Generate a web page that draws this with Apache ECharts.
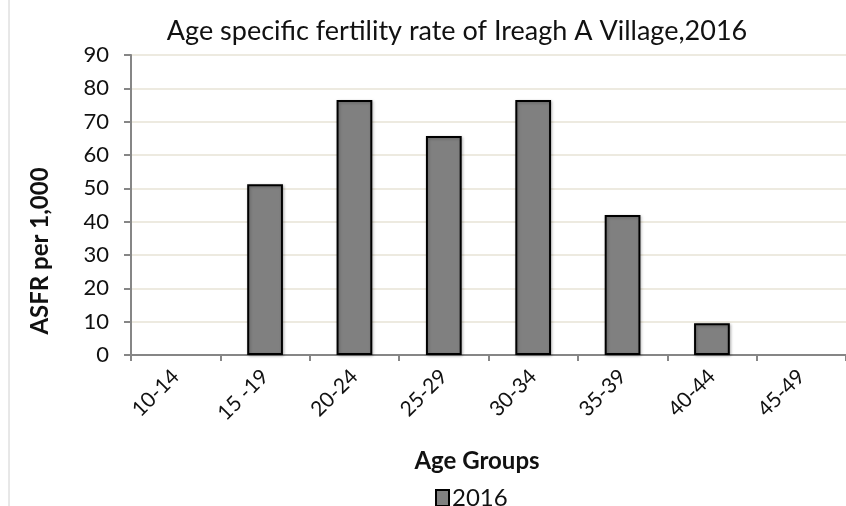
<!DOCTYPE html>
<html>
<head>
<meta charset="utf-8">
<script src="https://cdn.jsdelivr.net/npm/echarts@6/dist/echarts.min.js"></script>
<style>
  html, body { margin: 0; padding: 0; background: #fff; }
  #chart { width: 846px; height: 506px; }
</style>
</head>
<body>
<div id="chart"></div>
<script>
var ageGroups = ['10-14', '15 -19', '20-24', '25-29', '30-34', '35-39', '40-44', '45-49'];
var asfr2016 = [0, 51.2, 76.5, 65.7, 76.5, 42, 9.5, 0];
var yTicks = { min: 0, max: 90, interval: 10 };

var dom = document.getElementById('chart');
var myChart = echarts.init(dom, null, { renderer: 'canvas' });

var font = 'Lato, "Noto Sans", sans-serif';
var textColor = '#111111';

// zero bars show nothing in the original, so drop their outline
var barData = asfr2016.map(function (v) {
    return v === 0 ? { value: v, itemStyle: { borderWidth: 0 } } : v;
});

var option = {
    backgroundColor: '#ffffff',
    animation: false,
    title: {
        text: 'Age specific fertility rate of Ireagh A Village,2016',
        left: 452,
        textAlign: 'center',
        top: 13,
        textStyle: {
            fontFamily: font,
            fontWeight: 'normal',
            fontSize: 27,
            color: textColor
        }
    },
    legend: {
        data: ['2016'],
        icon: 'rect',
        left: 430,
        top: 481,
        itemWidth: 13,
        itemHeight: 16,
        itemGap: 4,
        itemStyle: { borderColor: '#000', borderWidth: 2 },
        textStyle: {
            fontFamily: font,
            fontSize: 24,
            color: textColor,
            padding: [0, 0, 0, -2]
        }
    },
    grid: {
        left: 131,
        top: 55,
        width: 728,
        height: 300,
        containLabel: false
    },
    xAxis: {
        type: 'category',
        data: ageGroups,
        axisLine: { lineStyle: { color: '#868686', width: 2 } },
        axisTick: { show: true, length: 6, lineStyle: { color: '#868686', width: 2 } },
        axisLabel: {
            rotate: 45,
            margin: 18,
            fontFamily: font,
            fontSize: 21,
            color: textColor,
            interval: 0
        },
        splitLine: { show: false }
    },
    yAxis: {
        type: 'value',
        min: yTicks.min,
        max: yTicks.max,
        interval: yTicks.interval,
        axisLine: { show: true, lineStyle: { color: '#868686', width: 2 } },
        axisTick: { show: true, inside: false, length: 7, lineStyle: { color: '#868686', width: 2 } },
        axisLabel: {
            margin: 22,
            fontFamily: font,
            fontSize: 22,
            color: textColor
        },
        splitLine: { lineStyle: { color: '#EDEAE0', width: 2 } }
    },
    graphic: [
        {
            type: 'line',
            shape: { x1: 9, y1: 0, x2: 9, y2: 506 },
            style: { stroke: '#D0D0D0', lineWidth: 1 }
        },
        {
            type: 'text',
            x: 40,
            y: 251,
            rotation: Math.PI / 2,
            style: {
                text: 'ASFR per 1,000',
                fontFamily: font,
                fontWeight: 'bold',
                fontSize: 24,
                fill: textColor,
                align: 'center',
                verticalAlign: 'middle'
            }
        },
        {
            type: 'text',
            x: 477,
            y: 461,
            style: {
                text: 'Age Groups',
                fontFamily: font,
                fontWeight: 'bold',
                fontSize: 24,
                fill: textColor,
                align: 'center',
                verticalAlign: 'middle'
            }
        }
    ],
    series: [
        {
            name: '2016',
            type: 'bar',
            data: barData,
            barWidth: '40%',
            itemStyle: {
                color: '#808080',
                borderColor: '#000000',
                borderWidth: 2,
                shadowColor: 'rgba(0,0,0,0.25)',
                shadowBlur: 3,
                shadowOffsetX: 1,
                shadowOffsetY: 1
            }
        }
    ]
};

myChart.setOption(option);
window.addEventListener('resize', myChart.resize);
</script>
</body>
</html>
